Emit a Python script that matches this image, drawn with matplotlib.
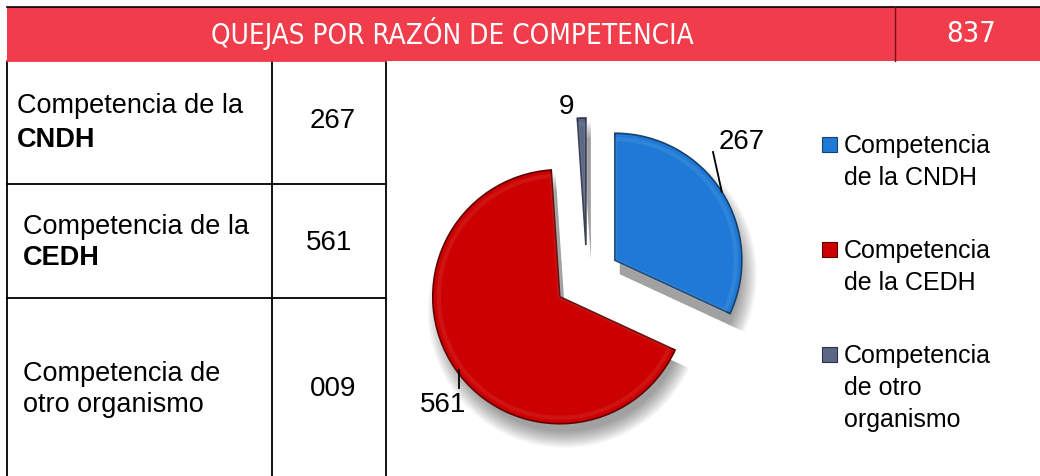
import numpy as np
import matplotlib.pyplot as plt
from matplotlib.patches import Rectangle

W, H = 1040, 476

title = 'QUEJAS POR RAZÓN DE COMPETENCIA'
total = 837
row_text = ['Competencia de la', 'Competencia de la', 'Competencia de']
row_bold = ['CNDH', 'CEDH', '']
row_second = ['', '', 'otro organismo']
row_numbers = ['267', '561', '009']
values = [267, 561, 9]
legend_labels = ['Competencia\nde la CNDH', 'Competencia\nde la CEDH', 'Competencia\nde otro\norganismo']
colors = ['#1E7AD6', '#CC0000', '#5B6885']
edges = ['#17406B', '#5E0000', '#2C3345']


def Y(y):
    return H - y


fig = plt.figure(figsize=(W / 100, H / 100), dpi=100)
ax = fig.add_axes([0, 0, 1, 1])
plt.rcParams['font.family'] = ['Liberation Sans', 'DejaVu Sans']

# header bar
ax.add_patch(Rectangle((7, Y(61)), W - 7, 54, facecolor='#F03C4B', edgecolor='none'))
ax.plot([7, W], [Y(7), Y(7)], color='k', lw=1.2)
ax.plot([895, 895], [Y(7), Y(61)], color='#7a1018', lw=1)
ax.text(452, Y(34), title, color='white', fontsize=20, ha='center', va='center',
        family='DejaVu Sans', fontstretch='condensed')
ax.text(971, Y(34), str(total), color='white', fontsize=21, ha='center', va='center',
        family='DejaVu Sans', fontstretch='condensed')

# table grid
for y in [184, 298]:
    ax.plot([7, 386], [Y(y), Y(y)], color='k', lw=1.3)
for x in [7, 272, 386]:
    ax.plot([x, x], [Y(61), 0], color='k', lw=1.3)
ax.plot([7, 386], [Y(61), Y(61)], color='#F03C4B', lw=1.3)

# cell text
ax.text(17, Y(113), row_text[0], fontsize=19.5, va='baseline')
ax.text(17, Y(147), row_bold[0], fontsize=19.5, va='baseline', fontweight='bold')
ax.text(23, Y(234), row_text[1], fontsize=19.5, va='baseline')
ax.text(23, Y(265), row_bold[1], fontsize=19.5, va='baseline', fontweight='bold')
ax.text(23, Y(381), row_text[2], fontsize=19.5, va='baseline')
ax.text(23, Y(412), row_second[2], fontsize=19.5, va='baseline')
for (x, y), s in zip([(333, 121), (329, 243), (333, 389)], row_numbers):
    ax.text(x, Y(y), s, fontsize=20, ha='center', va='center')

# pie with soft shadow
cx, cy, r, ex = 587, Y(278), 127, 33
for k in range(12):
    ax.pie(values, center=(cx + 5, cy - 14), radius=r + 10 - 1.5 * k, startangle=90,
           counterclock=False, explode=[ex, ex, ex], colors=['#000000'] * 3,
           wedgeprops=dict(alpha=0.035, linewidth=0), frame=True)
wedges, _ = ax.pie(values, center=(cx, cy), radius=r, startangle=90, counterclock=False,
                   explode=[ex, ex, ex], colors=colors, frame=True,
                   wedgeprops=dict(linewidth=1.2))
for w, ec in zip(wedges, edges):
    w.set_edgecolor(ec)
# inner bevel highlight
ax.pie(values, center=(cx, cy), radius=r - 6, startangle=90, counterclock=False,
       explode=[ex, ex, ex], colors=['none'] * 3, frame=True,
       wedgeprops=dict(linewidth=3, edgecolor='white', alpha=0.08))

# value labels with leader lines
lab_pos = [(742, 142), (443, 405), (566, 107)]
for w, v, (tx, ty) in zip(wedges, values, lab_pos):
    th = np.deg2rad((w.theta1 + w.theta2) / 2)
    wx, wy = w.center
    if v == 267:
        ax.plot([wx + r * np.cos(th), 713], [wy + r * np.sin(th), Y(152)], color='k', lw=1.3)
    elif v == 561:
        ax.plot([459, 459], [Y(370), Y(388)], color='k', lw=1.3)
    ax.text(tx, Y(ty), str(v), fontsize=20, ha='center', va='center')

# legend
for i, (lab, c) in enumerate(zip(legend_labels, colors)):
    top = [137, 242, 347][i]
    ax.add_patch(Rectangle((822, Y(top + 15)), 15, 15, facecolor=c, edgecolor=edges[i], lw=0.8))
    ax.text(844, Y(top - 3), lab, fontsize=18, va='top', linespacing=1.42)

ax.set_xlim(0, W)
ax.set_ylim(0, H)
ax.set_aspect('auto')
ax.axis('off')
fig.savefig('out.png', dpi=100)
